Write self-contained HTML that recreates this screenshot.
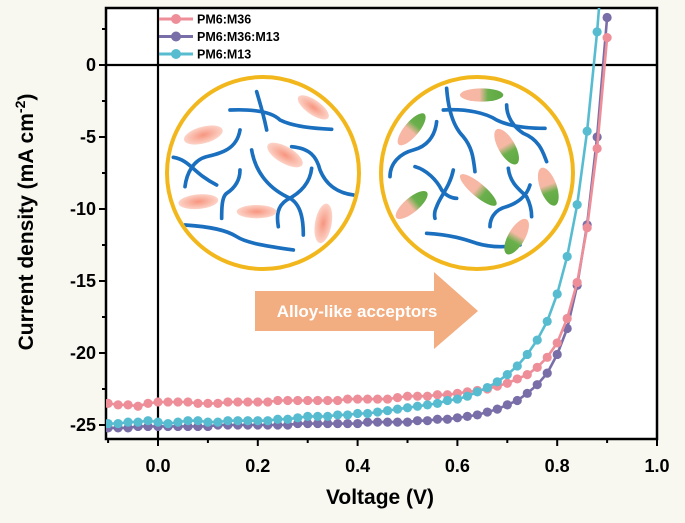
<!DOCTYPE html>
<html><head><meta charset="utf-8"><style>
html,body{margin:0;padding:0;background:#f8f8f1;}
svg{display:block;font-family:"Liberation Sans",sans-serif;}
</style></head><body>
<svg width="685" height="523" viewBox="0 0 685 523">
<defs>
<clipPath id="clip"><rect x="106" y="8" width="551" height="431"/></clipPath>
<radialGradient id="pk" cx="0.5" cy="0.5" r="0.5"><stop offset="0" stop-color="#f7957f"/><stop offset="1" stop-color="#fcd3c7"/></radialGradient>
<linearGradient id="bi" x1="0" y1="0" x2="1" y2="0"><stop offset="0" stop-color="#f8b6a3"/><stop offset="0.45" stop-color="#f6b8a4"/><stop offset="0.65" stop-color="#6ab04c"/><stop offset="1" stop-color="#5ea842"/></linearGradient>
</defs>
<rect x="106" y="8" width="551" height="431" fill="#ffffff"/>
<g id="inset">
 <g transform="translate(160,70) scale(0.3333)" fill="none" stroke="#1a6fbf" stroke-width="11" stroke-linecap="round">
  <g>
  <path d="M210,120 C260,118 330,120 360,150 C400,170 460,175 515,178"/>
  <path d="M290,65 C300,100 310,130 320,180"/>
  <path d="M40,262 C90,270 100,310 170,345"/>
  <path d="M240,180 C230,240 180,250 140,260 C100,270 80,310 75,350"/>
  <path d="M275,240 C285,300 320,350 380,380 C420,395 430,440 430,495"/>
  <path d="M395,230 C450,235 470,260 480,300 C500,350 540,370 580,375"/>
  <path d="M455,295 C450,340 420,370 380,390 C350,410 350,440 355,470"/>
  <path d="M240,300 C240,340 215,360 200,370 C185,380 185,420 185,445"/>
  <path d="M75,465 C150,470 200,480 230,500 C260,520 330,530 400,540"/>
  </g>
  <g stroke="none" fill="url(#pk)">
  <ellipse cx="130" cy="195" rx="60" ry="25" transform="rotate(-15 130 195)"/>
  <ellipse cx="460" cy="112" rx="55" ry="22" transform="rotate(35 460 112)"/>
  <ellipse cx="375" cy="255" rx="60" ry="25" transform="rotate(30 375 255)"/>
  <ellipse cx="115" cy="395" rx="60" ry="22" transform="rotate(-5 115 395)"/>
  <ellipse cx="290" cy="425" rx="60" ry="20"/>
  <ellipse cx="490" cy="460" rx="25" ry="60" transform="rotate(10 490 460)"/>
  </g>
  <g>
  <path d="M860,55 C865,120 880,170 910,200 C935,230 940,260 945,305"/>
  <path d="M850,120 C920,115 980,130 1010,150 C1050,170 1100,175 1155,175"/>
  <path d="M1040,105 C1040,140 1060,170 1090,190 C1140,210 1150,250 1160,275"/>
  <path d="M830,155 C825,200 800,230 760,240 C720,250 690,280 690,320"/>
  <path d="M765,290 C800,300 830,330 845,360 C860,380 880,385 890,385"/>
  <path d="M880,300 C870,350 840,380 830,410 C820,430 825,445 825,445"/>
  <path d="M1045,295 C1050,340 1080,360 1100,380 C1110,400 1115,420 1115,440"/>
  <path d="M1110,345 C1100,380 1070,400 1040,410 C1000,420 990,450 990,470"/>
  <path d="M800,490 C880,495 920,510 950,520 C1000,535 1050,530 1080,525"/>
  </g>
  <g stroke="none" fill="url(#bi)">
  <ellipse cx="965" cy="75" rx="65" ry="20"/>
  <ellipse cx="755" cy="178" rx="60" ry="22" transform="rotate(-50 755 178)"/>
  <ellipse cx="1040" cy="230" rx="60" ry="25" transform="rotate(60 1040 230)"/>
  <ellipse cx="955" cy="360" rx="70" ry="20" transform="rotate(40 955 360)"/>
  <ellipse cx="755" cy="405" rx="60" ry="22" transform="rotate(-40 755 405)"/>
  <ellipse cx="1165" cy="350" rx="60" ry="25" transform="rotate(70 1165 350)"/>
  <ellipse cx="1070" cy="500" rx="60" ry="25" transform="rotate(120 1070 500)"/>
  </g>
 </g>
 <circle cx="263" cy="173" r="96" fill="none" stroke="#f2b71c" stroke-width="4"/>
 <circle cx="477" cy="173" r="96" fill="none" stroke="#f2b71c" stroke-width="4"/>
 <polygon points="255,291 434,291 434,272 478,311 434,349 434,331 255,331" fill="#f2ad80"/>
 <text x="357" y="317" font-size="17" font-weight="bold" fill="#ffffff" text-anchor="middle">Alloy-like acceptors</text>
</g>
<g id="axes"></g>
<g id="series" clip-path="url(#clip)"></g>
<g id="legend"></g>
<text x="380" y="504" font-size="21" font-weight="bold" text-anchor="middle">Voltage (V)</text>
<text transform="translate(33,222) rotate(-90)" font-size="21" font-weight="bold" text-anchor="middle">Current density (mA cm<tspan baseline-shift="super" font-size="14">-2</tspan>)</text>
</svg>
<script>
const voltages=[-0.1,-0.08,-0.06,-0.04,-0.02,0,0.02,0.04,0.06,0.08,0.1,0.12,0.14,0.16,0.18,0.2,0.22,0.24,0.26,0.28,0.3,0.32,0.34,0.36,0.38,0.4,0.42,0.44,0.46,0.48,0.5,0.52,0.54,0.56,0.58,0.6,0.62,0.64,0.66,0.68,0.7,0.72,0.74,0.76,0.78,0.8,0.82,0.84,0.86,0.88,0.9];
const jM36=[-23.5,-23.6,-23.6,-23.7,-23.5,-23.4,-23.4,-23.4,-23.4,-23.5,-23.5,-23.5,-23.4,-23.4,-23.4,-23.4,-23.4,-23.3,-23.3,-23.3,-23.3,-23.3,-23.3,-23.3,-23.2,-23.2,-23.2,-23.2,-23.2,-23.1,-23.0,-23.0,-23.0,-22.9,-22.9,-22.8,-22.7,-22.6,-22.5,-22.3,-22.1,-21.8,-21.5,-21.0,-20.3,-19.3,-17.6,-15.1,-11.3,-5.8,1.9];
const jM36M13=[-25.2,-25.2,-25.2,-25.1,-25.1,-25.1,-25.1,-25.1,-25.1,-25.1,-25.1,-25.0,-25.0,-25.0,-25.0,-25.0,-25.0,-25.0,-25.0,-24.9,-24.9,-24.9,-24.9,-24.9,-24.9,-24.9,-24.8,-24.8,-24.8,-24.8,-24.8,-24.7,-24.7,-24.6,-24.6,-24.5,-24.4,-24.3,-24.1,-23.9,-23.6,-23.3,-22.8,-22.2,-21.4,-20.1,-18.3,-15.3,-11.1,-5.0,3.3];
const jM13=[-24.9,-24.9,-24.8,-24.8,-24.7,-24.8,-24.9,-24.8,-24.7,-24.7,-24.8,-24.8,-24.7,-24.7,-24.7,-24.7,-24.7,-24.6,-24.6,-24.5,-24.4,-24.4,-24.4,-24.3,-24.3,-24.2,-24.2,-24.1,-24.0,-23.9,-23.8,-23.7,-23.6,-23.5,-23.3,-23.2,-23.0,-22.7,-22.4,-22.0,-21.5,-20.9,-20.1,-19.1,-17.8,-15.9,-13.3,-9.7,-4.6,2.3,11];
const seriesNames=["PM6:M36","PM6:M36:M13","PM6:M13"];
const xTicks=[0.0,0.2,0.4,0.6,0.8,1.0];
const xTickLabels=["0.0","0.2","0.4","0.6","0.8","1.0"];
const yTicks=[0,-5,-10,-15,-20,-25];
const yTickLabels=["0","-5","-10","-15","-20","-25"];

const NS="http://www.w3.org/2000/svg";
const X0=106,X1=657,Y0=8,Y1=439;
const xMin=-0.1,xMax=1.0;
function sx(v){return 158+v*499;}
function sy(v){return 65-v*14.4;}
function mk(tag,attrs,parent){const e=document.createElementNS(NS,tag);for(const k in attrs)e.setAttribute(k,attrs[k]);parent.appendChild(e);return e;}
const axes=document.getElementById('axes');
// zero lines
let zl=mk('line',{x1:X0,x2:X1,y1:sy(0),y2:sy(0),stroke:'#000','stroke-width':2.2},axes);


let zv=mk('line',{x1:sx(0),x2:sx(0),y1:Y0,y2:Y1,stroke:'#000','stroke-width':2.2},axes);


let fr=mk('rect',{x:X0,y:Y0,width:X1-X0,height:Y1-Y0,fill:'none',stroke:'#000','stroke-width':2.5},axes);


// x ticks
for(let v=-0.1;v<=1.001;v+=0.1){const major=Math.abs(Math.round(v*10)%2)===0;
 const t=mk('line',{x1:sx(v),x2:sx(v),y1:Y1,y2:Y1+(major?7:4),stroke:'#000','stroke-width':2},axes);
 
 }
xTicks.forEach((v,i)=>{const t=mk('text',{x:sx(v),y:472,'font-size':18,'font-weight':'bold','text-anchor':'middle'},axes);t.textContent=xTickLabels[i];
 
 });
for(let v=2.5;v>=-25.01;v-=2.5){const major=Math.abs(v%5)<0.01;
 const t=mk('line',{x1:X0-(major?7:4),x2:X0,y1:sy(v),y2:sy(v),stroke:'#000','stroke-width':2},axes);
 
 }
yTicks.forEach((v,i)=>{const t=mk('text',{x:96,y:sy(v)+6,'font-size':18,'font-weight':'bold','text-anchor':'end'},axes);t.textContent=yTickLabels[i];
 
 });
const colors=['#ee8e99','#7a6ea8','#58bcd1'];
const data=[jM36,jM36M13,jM13];
const ser=document.getElementById('series');
[1,0,2].forEach(si=>{
 const g=mk('g',{},ser);
 
 
 const pts=voltages.map((v,i)=>sx(v).toFixed(1)+','+sy(data[si][i]).toFixed(1)).join(' ');
 mk('polyline',{points:pts,fill:'none',stroke:colors[si],'stroke-width':2.6},g);
 voltages.forEach((v,i)=>{const c=mk('circle',{cx:sx(v),cy:sy(data[si][i]),r:4.6,fill:colors[si]},g);
  
  });
});
const lg=document.getElementById('legend');


seriesNames.forEach((n,i)=>{const y=19+i*17.5;
 const g=mk('g',{},lg);
 
 
 mk('line',{x1:159,x2:193,y1:y,y2:y,stroke:colors[i],'stroke-width':3},g);
 mk('circle',{cx:176,cy:y,r:5,fill:colors[i]},g);
 const t=mk('text',{x:197,y:y+4.5,'font-size':12.5,'font-weight':'bold'},g);t.textContent=n;});
</script>
</body></html>
